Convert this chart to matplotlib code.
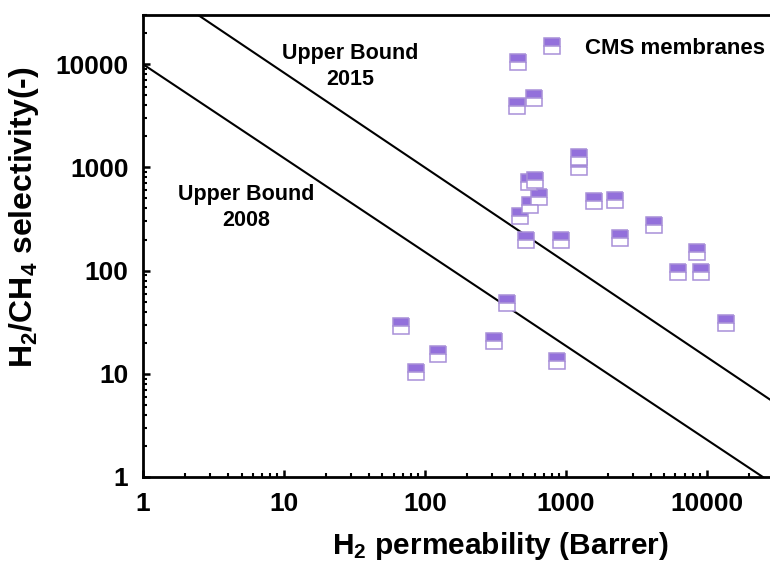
import matplotlib
matplotlib.use('Agg')
import matplotlib.pyplot as plt
from matplotlib.ticker import LogLocator, NullFormatter, FixedLocator

plt.rcParams['font.family'] = 'Liberation Sans'
plt.rcParams['font.weight'] = 'bold'
plt.rcParams['mathtext.fontset'] = 'custom'
plt.rcParams['mathtext.rm'] = 'Liberation Sans:bold'
plt.rcParams['mathtext.bf'] = 'Liberation Sans:bold'

# CMS membranes: H2 permeability (Barrer) vs H2/CH4 selectivity
perm = [455, 590, 450, 1250, 1250, 545, 600, 650, 560, 470, 525, 930,
        1590, 2240, 4200, 2430, 8500, 6250, 9100, 13800, 380, 68, 307,
        124, 86, 860]
sel = [10400, 4700, 3900, 1250, 1000, 730, 750, 520, 430, 335, 200, 200,
       470, 480, 275, 205, 150, 98, 98, 31, 49, 29, 21, 15.6, 10.5, 13.4]

# Robeson-type upper bounds (end points)
ub2008_perm = [1, 25000]
ub2008_sel = [10000, 1]
ub2015_perm = [1, 30000]
ub2015_sel = [68600, 5.3]

purple = '#9370DB'
edge = '#A890D8'

fig = plt.figure(figsize=(7.7, 5.65), dpi=100)
ax = fig.add_axes([143/770, 88/565, 631/770, 462/565])

ax.plot(ub2008_perm, ub2008_sel, color='black', lw=1.5)
ax.plot(ub2015_perm, ub2015_sel, color='black', lw=1.5)

ax.plot(perm, sel, ls='none', marker='s', ms=11.5, fillstyle='top',
        markerfacecolor=purple, markerfacecoloralt='white',
        markeredgecolor=edge, markeredgewidth=1.1, label='CMS membranes')

ax.set_xscale('log')
ax.set_yscale('log')
ax.set_xlim(1, 30000)
ax.set_ylim(1, 30000)

ax.xaxis.set_major_locator(FixedLocator([1, 10, 100, 1000, 10000]))
ax.yaxis.set_major_locator(FixedLocator([1, 10, 100, 1000, 10000]))
ax.set_xticklabels(['1', '10', '100', '1000', '10000'])
ax.set_yticklabels(['1', '10', '100', '1000', '10000'])
ax.xaxis.set_minor_locator(LogLocator(base=10, subs=range(2, 10), numticks=20))
ax.yaxis.set_minor_locator(LogLocator(base=10, subs=range(2, 10), numticks=20))
ax.xaxis.set_minor_formatter(NullFormatter())
ax.yaxis.set_minor_formatter(NullFormatter())

ax.tick_params(which='major', direction='in', length=5, width=1.8,
               labelsize=19)
ax.tick_params(axis='x', which='major', pad=11)
ax.tick_params(axis='y', which='major', pad=10.5)
ax.tick_params(which='minor', direction='in', length=3, width=1.5)
for s in ax.spines.values():
    s.set_linewidth(2)

ax.set_xlabel(r'$\mathbf{H_2}$ permeability (Barrer)', fontsize=21.5,
              fontweight='bold')
ax.set_ylabel(r'$\mathbf{H_2/CH_4}$ selectivity(-)', fontsize=23,
              fontweight='bold')
ax.xaxis.set_label_coords(0.566, -0.115)
ax.yaxis.set_label_coords(-0.162, 0.563)

ax.text(5.4, 410, 'Upper Bound\n2008', ha='center', va='center',
        fontsize=15.5, fontweight='bold', linespacing=1.3)
ax.text(29.5, 9560, 'Upper Bound\n2015', ha='center', va='center',
        fontsize=15.5, fontweight='bold', linespacing=1.3)

ax.legend(loc='center left', bbox_to_anchor=(541/770, 517/565),
          bbox_transform=fig.transFigure, frameon=False,
          handlelength=1.0, handletextpad=1.0, borderpad=0,
          borderaxespad=0, numpoints=1, prop={'weight': 'bold', 'size': 16})

fig.savefig('out.png', dpi=100)
